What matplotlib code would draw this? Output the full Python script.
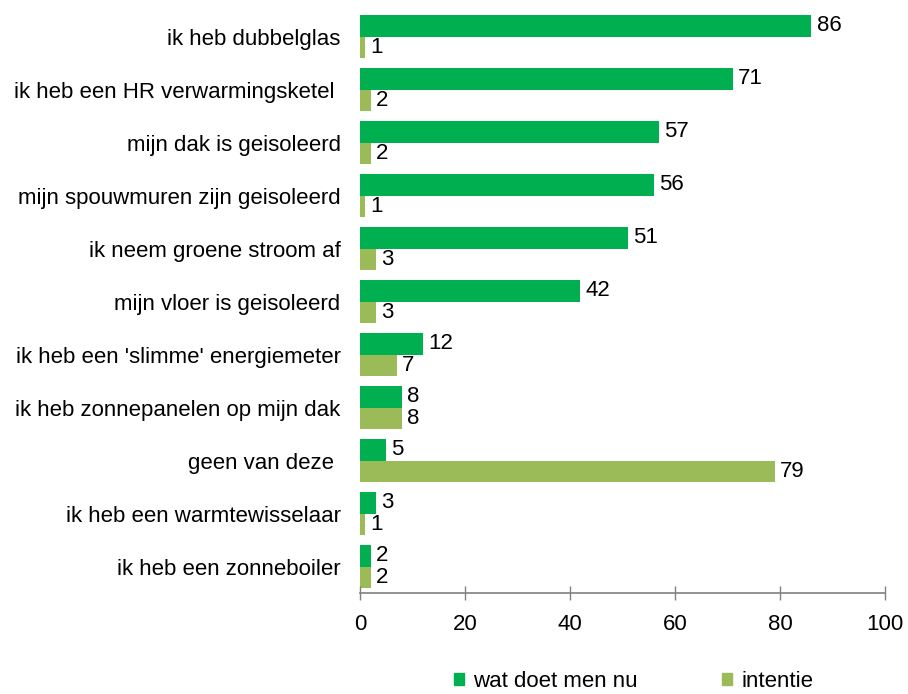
import matplotlib
matplotlib.use("Agg")
import matplotlib.pyplot as plt
import numpy as np
from matplotlib.patches import Patch

plt.rcParams['font.family'] = ['Liberation Sans', 'DejaVu Sans']

categories = ["ik heb dubbelglas", "ik heb een HR verwarmingsketel ", "mijn dak is geisoleerd",
              "mijn spouwmuren zijn geisoleerd", "ik neem groene stroom af", "mijn vloer is geisoleerd",
              "ik heb een 'slimme' energiemeter", "ik heb zonnepanelen op mijn dak", "geen van deze ",
              "ik heb een warmtewisselaar", "ik heb een zonneboiler"]
nu = [86, 71, 57, 56, 51, 42, 12, 8, 5, 3, 2]
intentie = [1, 2, 2, 1, 3, 3, 7, 8, 79, 1, 2]
series_names = ["wat doet men nu", "intentie"]
colors = ["#00B050", "#9BBB59"]
xticks = [0, 20, 40, 60, 80, 100]

FS = 16
fig = plt.figure(figsize=(9.08, 6.94), dpi=100)
ax = fig.add_axes([0.3965, 0.1455, 0.578, 0.840])

n = len(categories)
y = np.arange(n)
h = 0.4
b1 = ax.barh(y - h/2, nu, height=h, color=colors[0])
b2 = ax.barh(y + h/2, intentie, height=h, color=colors[1])
for rects, vals in ((b1, nu), (b2, intentie)):
    for r, v in zip(rects, vals):
        ax.text(v + 1.0, r.get_y() + r.get_height()/2, str(v), va='center', ha='left', fontsize=FS)

ax.set_ylim(n - 0.5, -0.5)
ax.set_xlim(0, 100)
ax.set_yticks(y)
ax.set_yticklabels(categories, fontsize=FS)
ax.tick_params(axis='y', length=0, pad=14)
ax.set_xticks(xticks)
ax.set_xticklabels([str(t) for t in xticks], fontsize=FS)
ax.tick_params(axis='x', length=10, direction='inout', color='#808080', width=1, pad=10)
for s in ['top', 'right', 'left']:
    ax.spines[s].set_visible(False)
ax.spines['bottom'].set_color('#808080')
ax.spines['bottom'].set_linewidth(1.2)

handles = [Patch(color=colors[0]), Patch(color=colors[1])]
fig.legend(handles, series_names, loc='center', bbox_to_anchor=(0.698, 0.018), ncol=2,
           frameon=False, fontsize=FS, handlelength=0.45, handleheight=0.45, handletextpad=0.4,
           columnspacing=3.8, borderpad=0, borderaxespad=0)

fig.savefig("out.png", dpi=100)
